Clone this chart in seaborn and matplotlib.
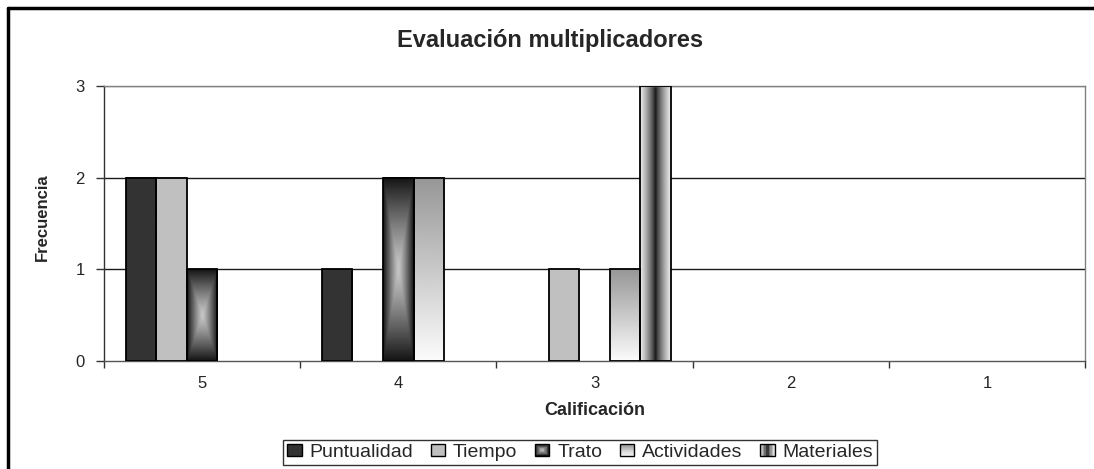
import numpy as np
import pandas as pd
import matplotlib
matplotlib.use("Agg")
import matplotlib.pyplot as plt
import seaborn as sns
from matplotlib.patches import Rectangle
from matplotlib.lines import Line2D
from matplotlib.legend_handler import HandlerBase

# ---------------- data ----------------
categories = ["5", "4", "3", "2", "1"]
series = ["Puntualidad", "Tiempo", "Trato", "Actividades", "Materiales"]
puntualidad = [2, 1, 0, 0, 0]
tiempo = [2, 0, 1, 0, 0]
trato = [1, 2, 0, 0, 0]
actividades = [0, 2, 1, 0, 0]
materiales = [0, 0, 3, 0, 0]
title = "Evaluación multiplicadores"
xlabel = "Calificación"
ylabel = "Frecuencia"
yticks = [0, 1, 2, 3]

values = [puntualidad, tiempo, trato, actividades, materiales]
df = pd.DataFrame({
    "Calificación": np.repeat([categories], len(series), axis=0).ravel(),
    "Serie": np.repeat(series, len(categories)),
    "Frecuencia": np.concatenate(values),
})

# ---------------- fill styles (gray level as function of u,v in [0,1]) ----------------
def g_punt(u, v):
    return np.full_like(u, 0.20)

def g_tiempo(u, v):
    return np.full_like(u, 0.75)

def g_trato(u, v):
    t = np.maximum(np.abs(2 * u - 1), np.abs(2 * v - 1))
    return 0.78 - 0.70 * t ** 1.2

def g_activ(u, v):
    return 0.985 - (0.985 - 0.59) * v

def g_mat(u, v):
    t = np.abs(2 * u - 1)
    return 0.07 + 0.87 * t ** 0.75

fills = dict(zip(series, [g_punt, g_tiempo, g_trato, g_activ, g_mat]))

# ---------------- figure ----------------
sns.set_theme(style="white")
plt.rcParams["font.family"] = ["Liberation Sans", "DejaVu Sans"]

W, H = 1094, 469
fig = plt.figure(figsize=(W / 100, H / 100), dpi=100)
ax = fig.add_axes([104 / W, 1 - 361 / H, (1085 - 104) / W, (361 - 86) / H])

sns.barplot(data=df, x="Calificación", y="Frecuencia", hue="Serie",
            order=categories, hue_order=series, width=0.78,
            palette=["#333333"] * 5, edgecolor="black", linewidth=1.3,
            legend=False, ax=ax, zorder=3)

ax.set_xlim(-0.5, len(categories) - 0.5)
ax.set_ylim(0, 3)

# gradient fills inside each bar
for name, cont in zip(series, ax.containers):
    f = fills[name]
    for bar in cont:
        h = bar.get_height()
        if h <= 0:
            bar.set_visible(False)
            continue
        x0, y0 = bar.get_x(), bar.get_y()
        w = bar.get_width()
        uu, vv = np.meshgrid(np.linspace(0, 1, 60), np.linspace(0, 1, 200))
        img = f(uu, vv)
        ax.imshow(img, extent=[x0, x0 + w, y0, y0 + h], origin="lower",
                  cmap="gray", vmin=0, vmax=1, aspect="auto",
                  interpolation="bilinear", zorder=2.5)
        bar.set_facecolor("none")
ax.set_xlim(-0.5, len(categories) - 0.5)
ax.set_ylim(0, 3)

# grid & spines
for yv in yticks[1:]:
    ax.axhline(yv, color="#1a1a1a" if yv < 3 else "#808080", lw=1.0, zorder=1)
for s in ["top", "right"]:
    ax.spines[s].set_color("#808080")
    ax.spines[s].set_linewidth(1.0)
ax.spines["left"].set_color("#333333")
ax.spines["bottom"].set_color("#555555")
for s in ["left", "bottom"]:
    ax.spines[s].set_linewidth(1.0)

# ticks
ax.set_yticks(yticks)
ax.set_yticklabels([str(t) for t in yticks], fontsize=12)
ax.tick_params(axis="y", direction="out", length=6, width=1, color="#333333",
               pad=8, left=True)
ax.set_xticks(np.arange(-0.5, len(categories), 1.0))
ax.set_xticklabels([])
ax.set_xticks(np.arange(len(categories)), minor=True)
ax.set_xticklabels(categories, minor=True, fontsize=12)
ax.tick_params(axis="x", which="major", direction="out", length=5, width=1,
               color="#333333", bottom=True)
ax.tick_params(axis="x", which="minor", length=0, pad=11)
ax.set_xlabel("")
ax.set_ylabel("")

# texts
fig.text(0.503, 1 - 40 / H, title, ha="center", va="center",
         fontsize=17, fontweight="bold")
fig.text((104 + 1085) / 2 / W, 1 - 410 / H, xlabel, ha="center", va="center",
         fontsize=13, fontweight="bold")
fig.text(42 / W, 1 - 217 / H, ylabel, ha="center", va="center", rotation=90,
         fontsize=12, fontweight="bold",
         family=["Liberation Sans Narrow", "Liberation Sans", "DejaVu Sans"])

# ---------------- legend with gradient swatches ----------------
class GradHandler(HandlerBase):
    def __init__(self, func, kind, n=10):
        super().__init__()
        self.func = func
        self.kind = kind
        self.n = n

    def create_artists(self, legend, orig_handle, xdescent, ydescent,
                       width, height, fontsize, trans):
        x0, y0 = -xdescent, -ydescent
        arts = []
        n = self.n
        if self.kind == "solid":
            g = float(self.func(np.array(0.5), np.array(0.5)))
            arts.append(Rectangle((x0, y0), width, height,
                                  facecolor=str(g), edgecolor="none", transform=trans))
        elif self.kind == "h":  # varies with u
            for i in range(n):
                u = (i + 0.5) / n
                g = float(np.clip(self.func(np.array(u), np.array(0.5)), 0, 1))
                arts.append(Rectangle((x0 + width * i / n, y0), width / n + 0.05, height,
                                      facecolor=str(g), edgecolor="none", transform=trans))
        elif self.kind == "v":  # varies with v
            for i in range(n):
                v = (i + 0.5) / n
                g = float(np.clip(self.func(np.array(0.5), np.array(v)), 0, 1))
                arts.append(Rectangle((x0, y0 + height * i / n), width, height / n + 0.05,
                                      facecolor=str(g), edgecolor="none", transform=trans))
        else:  # concentric
            for i in range(n):
                t = 1 - i / n
                g = float(np.clip(self.func(np.array(0.5 + t / 2), np.array(0.5)), 0, 1))
                arts.append(Rectangle((x0 + width * (1 - t) / 2, y0 + height * (1 - t) / 2),
                                      width * t, height * t,
                                      facecolor=str(g), edgecolor="none", transform=trans))
        arts.append(Rectangle((x0, y0), width, height, facecolor="none",
                              edgecolor="black", linewidth=1.0, transform=trans))
        return arts

kinds = ["solid", "solid", "c", "v", "h"]
proxies = [Rectangle((0, 0), 1, 1) for _ in series]
hmap = {p: GradHandler(fills[s], k) for p, s, k in zip(proxies, series, kinds)}
leg = fig.legend(proxies, series, handler_map=hmap, ncol=5,
                 loc="center", bbox_to_anchor=(580 / W, 1 - 452.5 / H),
                 fontsize=14, frameon=True, fancybox=False, shadow=False,
                 handlelength=0.75, handleheight=0.55, handletextpad=0.4,
                 columnspacing=0.9, borderpad=0.2, borderaxespad=0)
leg.get_frame().set_edgecolor("black")
leg.get_frame().set_linewidth(1.0)

# chart border (left & top visible)
fig.add_artist(Line2D([8 / W, 8 / W], [0, 1 - 8 / H], color="black", lw=2.5,
                      transform=fig.transFigure))
fig.add_artist(Line2D([8 / W, 1], [1 - 8 / H, 1 - 8 / H], color="black", lw=2.5,
                      transform=fig.transFigure))

fig.savefig("out.png", dpi=100)
